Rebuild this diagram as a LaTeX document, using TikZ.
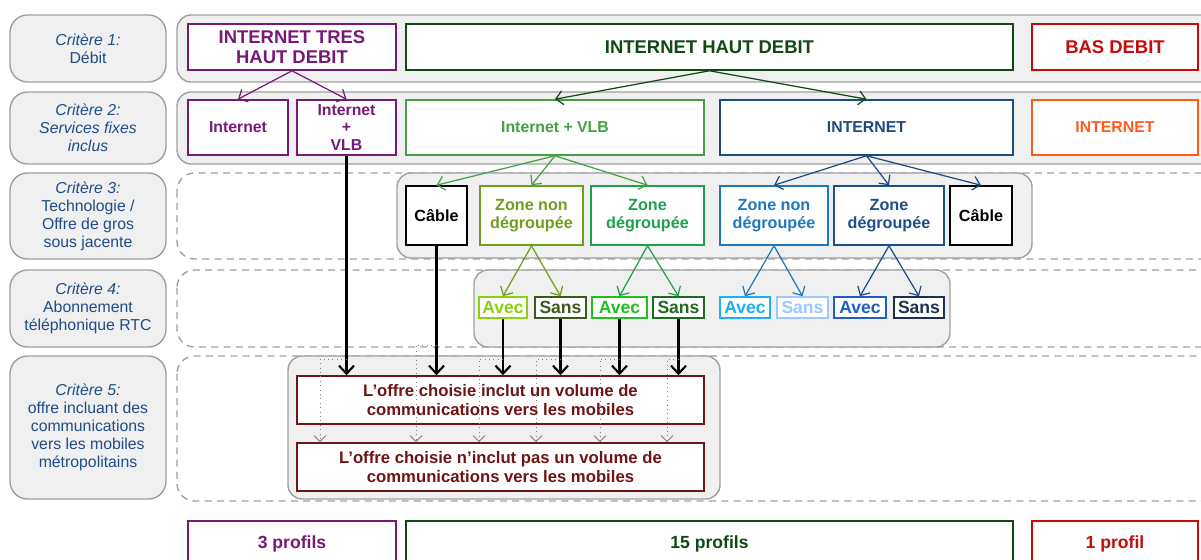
\documentclass[tikz,border=0pt]{standalone}
\usepackage{fontspec}
\setmainfont{Liberation Sans}
\usetikzlibrary{arrows.meta,calc}

\definecolor{cBandFill}{HTML}{F0F0F0}
\definecolor{cBandLine}{HTML}{A0A0A0}
\definecolor{cLabel}{HTML}{1F4C88}
\definecolor{cTHD}{HTML}{761A76}
\definecolor{cHD}{HTML}{0E4A12}
\definecolor{cBD}{HTML}{C80A0A}
\definecolor{cVLB}{HTML}{45A045}
\definecolor{cNET}{HTML}{1F4A80}
\definecolor{cORG}{HTML}{FF5A1E}
\definecolor{cOLV}{HTML}{6E9E1E}
\definecolor{cGRN}{HTML}{1EA050}
\definecolor{cBLU}{HTML}{1E78C0}
\definecolor{cNVY}{HTML}{1E4E8A}
\definecolor{cLime}{HTML}{8CD010}
\definecolor{cOliv}{HTML}{3C5A1E}
\definecolor{cGr2}{HTML}{20C020}
\definecolor{cDkGr}{HTML}{1E6A1E}
\definecolor{cCyan}{HTML}{1EB0F0}
\definecolor{cPale}{HTML}{9CC8FF}
\definecolor{cBlue2}{HTML}{1E5EC0}
\definecolor{cNavy2}{HTML}{1E3050}
\definecolor{cMaroon}{HTML}{6E1414}

\tikzset{
	band/.style={draw=cBandLine, fill=cBandFill, line width=0.8pt, rounded corners=8pt},
	dband/.style={draw=cBandLine, line width=0.8pt, dash pattern=on 4pt off 3pt, rounded corners=10pt},
	crit/.style={draw=cBandLine, fill=cBandFill, line width=0.8pt, rounded corners=10pt,
		text=cLabel, align=center, font=\fontsize{9}{10.2}\selectfont, minimum width=3.12cm},
	cbox/.style={draw=#1, text=#1, fill=white, line width=0.9pt, align=center, inner sep=0pt},
	carr/.style={draw=#1, line width=0.7pt, -{Straight Barb[length=1.4mm,width=2.8mm]}},
	varr/.style={draw=black, line width=1.2pt, -{Straight Barb[length=1.6mm,width=3mm]}},
	darr/.style={draw=gray, dotted, line width=0.5pt, -{Straight Barb[length=1.2mm,width=2.4mm]}},
}

\begin{document}
\begin{tikzpicture}[x=0.02cm, y=-0.02cm]
	\useasboundingbox (0,0) rectangle (1201,560);

	% bands
	\draw[band] (177,15) rectangle (1220,82);
	\draw[band] (177,92) rectangle (1220,164);
	\draw[dband] (177,173) rectangle (1220,259);
	\draw[dband] (177,270) rectangle (1220,347);
	\draw[dband] (177,356) rectangle (1220,501);
	\draw[band] (397,173) rectangle (1032,258);
	\draw[band] (474,270) rectangle (950,347);
	\draw[band] (288,356) rectangle (720,499);

	\begin{scope}[every node/.style={crit}]
		\node[minimum height=1.34cm] (crit1) at (88,48.5) {\textit{Critère 1:}\\Débit};
		\node[minimum height=1.44cm, font=\fontsize{9}{10.2}\selectfont\itshape] (crit2) at (88,128) {Critère 2:\\Services fixes\\inclus};
		\node[minimum height=1.72cm] (crit3) at (88,216) {\textit{Critère 3:}\\Technologie /\\Offre de gros\\sous jacente};
		\node[minimum height=1.54cm] (crit4) at (88,308.5) {\textit{Critère 4:}\\Abonnement\\téléphonique RTC};
		\node[minimum height=2.86cm] (crit5) at (88,427.5) {\textit{Critère 5:}\\offre incluant des\\communications\\vers les mobiles\\métropolitains};
	\end{scope}

	% critere 1
	\begin{scope}[every node/.append style={minimum height=0.92cm, font=\fontsize{10.5}{11.5}\selectfont\bfseries}]
		\node[cbox=cTHD, minimum width=4.16cm] (tresHaut) at (292,47) {INTERNET TRES\\HAUT DEBIT};
		\node[cbox=cHD, minimum width=12.14cm] (haut) at (709.5,47) {INTERNET HAUT DEBIT};
		\node[cbox=cBD, minimum width=3.32cm] (bas) at (1115,47) {BAS DEBIT};
	\end{scope}

	% critere 2
	\begin{scope}[every node/.append style={minimum height=1.1cm, font=\fontsize{9}{10}\selectfont\bfseries}]
		\node[cbox=cTHD, minimum width=2cm] (inetP) at (238,127.5) {Internet};
		\node[cbox=cTHD, minimum width=1.98cm] (vlbP) at (346.5,127.5) {Internet\\+\\VLB};
		\node[cbox=cVLB, minimum width=5.96cm] (vlbG) at (555,127.5) {Internet + VLB};
		\node[cbox=cNET, minimum width=5.86cm] (inetB) at (866.5,127.5) {INTERNET};
		\node[cbox=cORG, minimum width=3.32cm] (inetO) at (1115,127.5) {INTERNET};
	\end{scope}

	% critere 3
	\begin{scope}[every node/.append style={minimum height=1.18cm, font=\fontsize{9.2}{10.3}\selectfont\bfseries}]
		\node[cbox=black, minimum width=1.22cm] (cableG) at (436.5,215.5) {Câble};
		\node[cbox=cOLV, minimum width=2.06cm] (zngG) at (531.5,215.5) {Zone non\\dégroupée};
		\node[cbox=cGRN, minimum width=2.26cm] (zdG) at (647.5,215.5) {Zone\\dégroupée};
		\node[cbox=cBLU, minimum width=2.16cm] (zngB) at (774,215.5) {Zone non\\dégroupée};
		\node[cbox=cNVY, minimum width=2.2cm] (zdB) at (889,215.5) {Zone\\dégroupée};
		\node[cbox=black, minimum width=1.24cm] (cableB) at (981,215.5) {Câble};
	\end{scope}

	% critere 4
	\begin{scope}[every node/.append style={minimum height=0.42cm, font=\fontsize{10}{11}\selectfont\bfseries}]
		\node[cbox=cLime, minimum width=0.96cm] (avec1) at (503,307.5) {Avec};
		\node[cbox=cOliv, minimum width=1.02cm] (sans1) at (560.5,307.5) {Sans};
		\node[cbox=cGr2, minimum width=1.1cm] (avec2) at (619.5,307.5) {Avec};
		\node[cbox=cDkGr, minimum width=1.02cm] (sans2) at (678.5,307.5) {Sans};
		\node[cbox=cCyan, minimum width=1cm] (avec3) at (745,307.5) {Avec};
		\node[cbox=cPale, minimum width=1.02cm] (sans3) at (802.5,307.5) {Sans};
		\node[cbox=cBlue2, minimum width=1.04cm] (avec4) at (860,307.5) {Avec};
		\node[cbox=cNavy2, minimum width=1cm] (sans4) at (919,307.5) {Sans};
	\end{scope}

	% critere 5
	\begin{scope}[every node/.append style={minimum height=0.96cm, minimum width=8.14cm, font=\fontsize{9.5}{10.3}\selectfont\bfseries}]
		\node[cbox=cMaroon] (box1) at (500.5,400) {L’offre choisie inclut un volume de\\communications vers les mobiles};
		\node[cbox=cMaroon] (box2) at (500.5,467) {L’offre choisie n’inclut pas un volume de\\communications vers les mobiles};
	\end{scope}

	% profils
	\begin{scope}[every node/.append style={minimum height=0.92cm, font=\fontsize{10}{11}\selectfont\bfseries}]
		\node[cbox=cTHD, minimum width=4.16cm] (prof3) at (292,544) {3 profils};
		\node[cbox=cHD, minimum width=12.14cm] (prof15) at (709.5,544) {15 profils};
		\node[cbox=cBD, minimum width=3.32cm] (prof1) at (1115,544) {1 profil};
	\end{scope}

	% arbres
	\foreach \t in {inetP,vlbP} \draw[carr=cTHD] (tresHaut.south) -- (\t.north);
	\foreach \t in {vlbG,inetB} \draw[carr=cHD] (haut.south) -- (\t.north);
	\foreach \t in {cableG,zngG,zdG} \draw[carr=cVLB] (vlbG.south) -- (\t.north);
	\foreach \t in {zngB,zdB,cableB} \draw[carr=cNET] (inetB.south) -- (\t.north);
	\foreach \s/\a/\b/\c in {zngG/avec1/sans1/cOLV, zdG/avec2/sans2/cGRN, zngB/avec3/sans3/cBLU, zdB/avec4/sans4/cNVY}{
		\draw[carr=\c] (\s.south) -- (\a.north);
		\draw[carr=\c] (\s.south) -- (\b.north);
	}

	% vers critere 5
	\foreach \s/\dx/\dy in {vlbP/320/359, cableG/416/345, avec1/479/359, sans1/536/359, avec2/600/359, sans2/667/359}{
		\draw[varr] (\s.south) -- (\s.south |- box1.north);
		\draw[darr] (\s.south |- 0,\dy) -| (\dx,0 |- box2.north);
	}
\end{tikzpicture}
\end{document}
